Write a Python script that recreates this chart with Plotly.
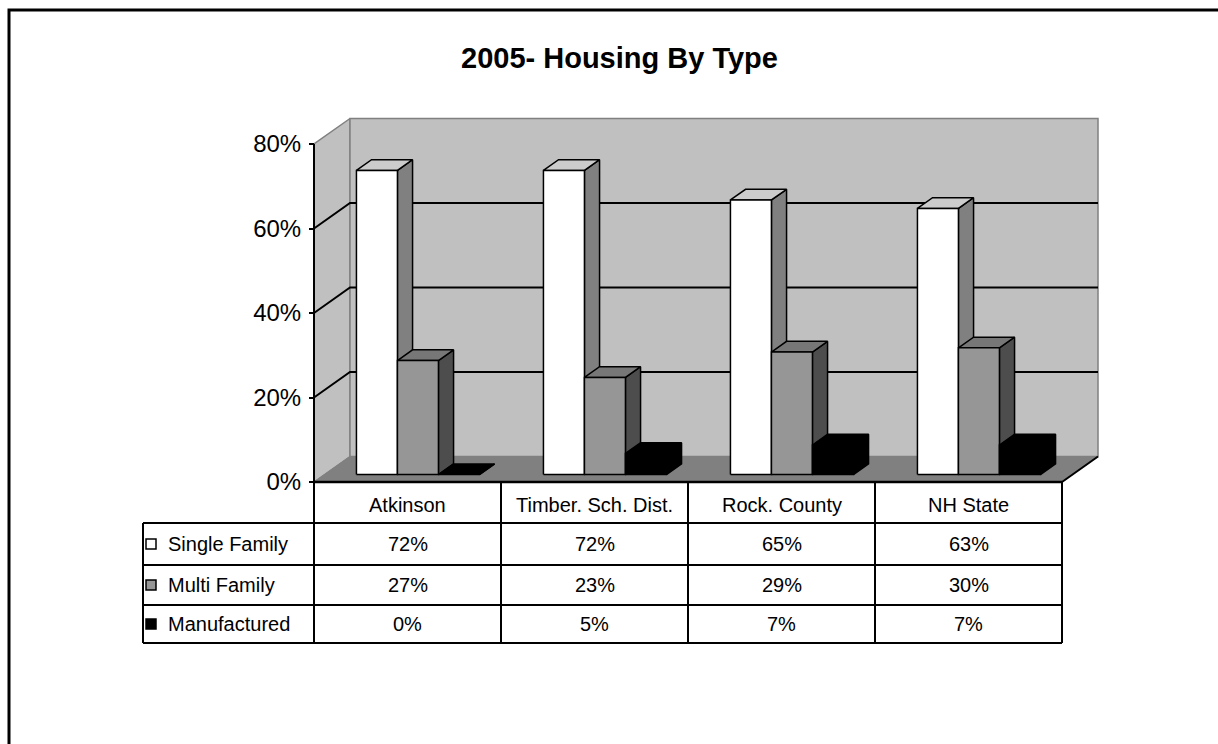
import plotly.graph_objects as go

# ---- data -------------------------------------------------------------
categories = ["Atkinson", "Timber. Sch. Dist.", "Rock. County", "NH State"]
series_names = ["Single Family", "Multi Family", "Manufactured"]
single_family = [72, 72, 65, 63]
multi_family = [27, 23, 29, 30]
manufactured = [0, 5, 7, 7]
y_ticks = [0, 20, 40, 60, 80]
y_tick_labels = ["0%", "20%", "40%", "60%", "80%"]
title_text = "2005- Housing By Type"

series_values = [single_family, multi_family, manufactured]

# ---- geometry ---------------------------------------------------------
W, H = 1218, 744
AXIS_PX = 314            # left edge of the front floor / value axis
CAT_PX = 187             # width of one category slot
ZERO_PX = 482            # pixel row of 0 %
PCT_PX = (482 - 144) / 80
DEPTH_X_PX, DEPTH_Y_PX = 36, 25.5


def x_of(px):
    return (px - AXIS_PX) / CAT_PX - 0.5


def y_of(py):
    return (ZERO_PX - py) / PCT_PX


DX = DEPTH_X_PX / CAT_PX
DY = DEPTH_Y_PX / PCT_PX
X_LEFT, X_RIGHT = -0.5, len(categories) - 0.5
Y_TOP = y_ticks[-1]

BAR_W = 41 / CAT_PX
GAP = (1 - 3 * BAR_W) / 2
F_FRONT, F_BACK = 0.29, 0.71

face_colors = [
    {"front": "#FFFFFF", "top": "#CCCCCC", "side": "#808080"},
    {"front": "#969696", "top": "#777777", "side": "#4D4D4D"},
    {"front": "#000000", "top": "#000000", "side": "#000000"},
]
FONT = "Arial, Liberation Sans, sans-serif"
TABLE_FONT = dict(family=FONT, size=20, color="black")

fig = go.Figure()


def poly(xs, ys, fill, line_color="black", line_w=1.5):
    fig.add_trace(go.Scatter(
        x=list(xs) + [xs[0]], y=list(ys) + [ys[0]], mode="lines",
        fill="toself", fillcolor=fill,
        line=dict(color=line_color, width=line_w),
        hoverinfo="skip", showlegend=False))


def seg(xs, ys, color="black", width=2):
    fig.add_trace(go.Scatter(
        x=xs, y=ys, mode="lines", line=dict(color=color, width=width),
        hoverinfo="skip", showlegend=False))


# ---- walls and floor --------------------------------------------------
poly([X_LEFT, X_LEFT, X_LEFT + DX, X_LEFT + DX],
     [0, Y_TOP, Y_TOP + DY, DY], "#C0C0C0", "#808080", 1.5)
poly([X_LEFT + DX, X_RIGHT + DX, X_RIGHT + DX, X_LEFT + DX],
     [DY, DY, Y_TOP + DY, Y_TOP + DY], "#C0C0C0", "#808080", 1.5)
poly([X_LEFT, X_RIGHT, X_RIGHT + DX, X_LEFT + DX],
     [0, 0, DY, DY], "#808080", "#808080", 1)
seg([X_RIGHT, X_RIGHT + DX], [0, DY], "black", 2)

# gridlines across the side wall and back wall
for v in y_ticks[1:-1]:
    seg([X_LEFT, X_LEFT + DX, X_RIGHT + DX], [v, v + DY, v + DY], "black", 2)

# ---- 3-D columns ------------------------------------------------------
ddx = (F_BACK - F_FRONT) * DX
ddy = (F_BACK - F_FRONT) * DY
for i in range(len(categories)):
    for s, vals in enumerate(series_values):
        v = vals[i]
        x0 = i - 0.5 + GAP + s * BAR_W + F_FRONT * DX
        x1 = x0 + BAR_W
        y0 = F_FRONT * DY
        y1 = v + F_FRONT * DY
        c = face_colors[s]
        poly([x1, x1 + ddx, x1 + ddx, x1], [y0, y0 + ddy, y1 + ddy, y1], c["side"])
        poly([x0, x1, x1 + ddx, x0 + ddx], [y1, y1, y1 + ddy, y1 + ddy], c["top"])
        if v > 0:
            poly([x0, x1, x1, x0], [y0, y0, y1, y1], c["front"])

# value axis line
seg([X_LEFT, X_LEFT], [0, Y_TOP], "black", 2)

# ---- data table -------------------------------------------------------
row_px = [482, 523, 565, 605, 643]
row_y = [y_of(p) for p in row_px]
legend_left = x_of(143)

# horizontal rules
seg([X_LEFT, X_RIGHT], [row_y[0], row_y[0]], "black", 2.5)
for ry in row_y[1:]:
    seg([legend_left, X_RIGHT], [ry, ry], "black", 2)
# vertical rules
for k in range(len(categories) + 1):
    xv = X_LEFT + k
    seg([xv, xv], [row_y[0], row_y[-1]], "black", 2)
seg([legend_left, legend_left], [row_y[1], row_y[-1]], "black", 2)

annotations = []
header_y = y_of(505)
for i, name in enumerate(categories):
    annotations.append(dict(x=i, y=header_y, text=name, showarrow=False,
                            xref="x", yref="y", font=TABLE_FONT))

for s, vals in enumerate(series_values):
    cy = (row_y[s + 1] + row_y[s + 2]) / 2
    for i, v in enumerate(vals):
        annotations.append(dict(x=i, y=cy, text=f"{v}%", showarrow=False,
                                xref="x", yref="y", font=TABLE_FONT))
    annotations.append(dict(x=x_of(166), y=cy, text=series_names[s],
                            showarrow=False, xref="x", yref="y",
                            xanchor="left", font=TABLE_FONT))

# legend keys inside the table
fig.add_trace(go.Scatter(
    x=[x_of(151)] * 3,
    y=[(row_y[s + 1] + row_y[s + 2]) / 2 for s in range(3)],
    mode="markers",
    marker=dict(symbol="square", size=10,
                color=[c["front"] for c in face_colors],
                line=dict(color="black", width=1.5)),
    hoverinfo="skip", showlegend=False))

# title
annotations.append(dict(x=619 / W, y=1 - 58 / H, xref="paper", yref="paper",
                        xanchor="center", yanchor="middle",
                        text=f"<b>{title_text}</b>", showarrow=False,
                        font=dict(family=FONT, size=29, color="black")))

fig.update_layout(
    width=W, height=H,
    margin=dict(l=0, r=0, t=0, b=0),
    paper_bgcolor="white", plot_bgcolor="white",
    showlegend=False, hovermode=False,
    annotations=annotations,
    xaxis=dict(range=[x_of(0), x_of(W)], visible=False, fixedrange=True),
    yaxis=dict(range=[y_of(H), y_of(0)], anchor="free", position=AXIS_PX / W,
               tickvals=y_ticks, ticktext=y_tick_labels,
               ticks="outside", ticklen=5, tickwidth=1.5, tickcolor="black",
               ticklabelstandoff=3,
               showgrid=False, zeroline=False, showline=False,
               tickfont=dict(family=FONT, size=24, color="black"),
               fixedrange=True),
    shapes=[dict(type="rect", xref="paper", yref="paper",
                 x0=9 / W, x1=1.05, y0=-0.05, y1=1 - 10 / H,
                 line=dict(color="black", width=3))],
)

fig.write_html("out.html")
